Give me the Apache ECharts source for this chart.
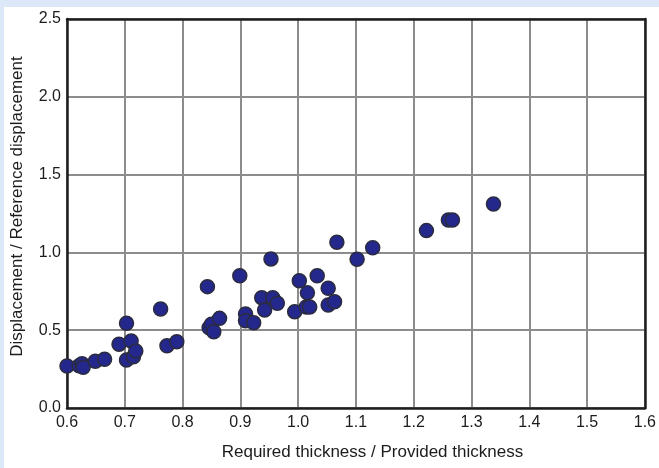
<!DOCTYPE html>
<html>
<head>
<meta charset="utf-8">
<script src="https://cdn.jsdelivr.net/npm/echarts@6/dist/echarts.min.js"></script>
<style>
html,body{margin:0;padding:0;background:#ffffff;}
#chart{width:659px;height:468px;}
</style>
</head>
<body>
<div id="chart"></div>
<script>
const xValues = [0.600, 0.621, 0.626, 0.628, 0.649, 0.665, 0.690, 0.703, 0.711, 0.703, 0.715, 0.719,
  0.762, 0.773, 0.790, 0.843, 0.846, 0.850, 0.854, 0.864, 0.899, 0.909, 0.909, 0.923,
  0.937, 0.942, 0.953, 0.956, 0.964, 0.994, 1.002, 1.016, 1.014, 1.020, 1.033, 1.052,
  1.052, 1.063, 1.067, 1.102, 1.129, 1.222, 1.260, 1.267, 1.338];
const yValues = [0.270, 0.272, 0.285, 0.262, 0.300, 0.313, 0.410, 0.544, 0.430, 0.308, 0.330, 0.366,
  0.636, 0.400, 0.426, 0.780, 0.516, 0.538, 0.490, 0.576, 0.850, 0.604, 0.561, 0.548,
  0.709, 0.630, 0.958, 0.709, 0.673, 0.619, 0.818, 0.740, 0.649, 0.649, 0.850, 0.769,
  0.662, 0.683, 1.065, 0.956, 1.030, 1.140, 1.208, 1.208, 1.311];
const xTicks = {min: 0.6, max: 1.6, step: 0.1};
const yTicks = {min: 0.0, max: 2.5, step: 0.5};
const xName = 'Required thickness / Provided thickness';
const yName = 'Displacement / Reference displacement';

const points = xValues.map((x, i) => [x, yValues[i]]);
const chart = echarts.init(document.getElementById('chart'), null, {renderer: 'canvas'});
const font = 'Liberation Sans, Arial, sans-serif';
const txt = '#1c1c1c';
const frameAxis = {
  type: 'value', axisLine: {show: true, onZero: false, lineStyle: {color: '#1e1e1e', width: 2.5}},
  axisTick: {show: false}, axisLabel: {show: false}, splitLine: {show: false}
};
chart.setOption({
  animation: false,
  backgroundColor: '#ffffff',
  graphic: [
    {type: 'rect', shape: {x: 0, y: 0, width: 659, height: 7}, style: {fill: '#dce8f8'}, z: -10},
    {type: 'rect', shape: {x: 0, y: 0, width: 4, height: 468}, style: {fill: '#dce8f8'}, z: -10}
  ],
  grid: {left: 67, right: 9, top: 19, bottom: 60},
  xAxis: [{
    type: 'value', min: xTicks.min, max: xTicks.max, interval: xTicks.step,
    name: xName, nameLocation: 'middle', nameGap: 36,
    nameTextStyle: {fontFamily: font, fontSize: 17, color: txt, padding: [0, 0, 0, 33]},
    axisLine: {show: true, onZero: false, lineStyle: {color: '#1e1e1e', width: 2.5}},
    axisTick: {show: false},
    axisLabel: {fontFamily: font, fontSize: 16, color: txt, margin: 7, formatter: v => v.toFixed(1)},
    splitLine: {show: true, lineStyle: {color: '#8c8c8c', width: 2}}
  }, Object.assign({position: 'top', min: xTicks.min, max: xTicks.max}, frameAxis)],
  yAxis: [{
    type: 'value', min: yTicks.min, max: yTicks.max, interval: yTicks.step,
    name: yName, nameLocation: 'middle', nameGap: 41, nameRotate: 90,
    nameTextStyle: {fontFamily: font, fontSize: 17, color: txt, padding: [0, 0, 0, 14]},
    axisLine: {show: true, onZero: false, lineStyle: {color: '#1e1e1e', width: 2.5}},
    axisTick: {show: false},
    axisLabel: {fontFamily: font, fontSize: 16, color: txt, margin: 6, formatter: v => v.toFixed(1)},
    splitLine: {show: true, lineStyle: {color: '#8c8c8c', width: 2}}
  }, Object.assign({position: 'right', min: yTicks.min, max: yTicks.max}, frameAxis)],
  series: [{
    type: 'scatter',
    xAxisIndex: 0, yAxisIndex: 0,
    data: points,
    symbol: 'circle',
    symbolSize: 14,
    itemStyle: {color: '#24288c', borderColor: '#2b2b40', borderWidth: 1.5, opacity: 1}
  }]
});
</script>
</body>
</html>
